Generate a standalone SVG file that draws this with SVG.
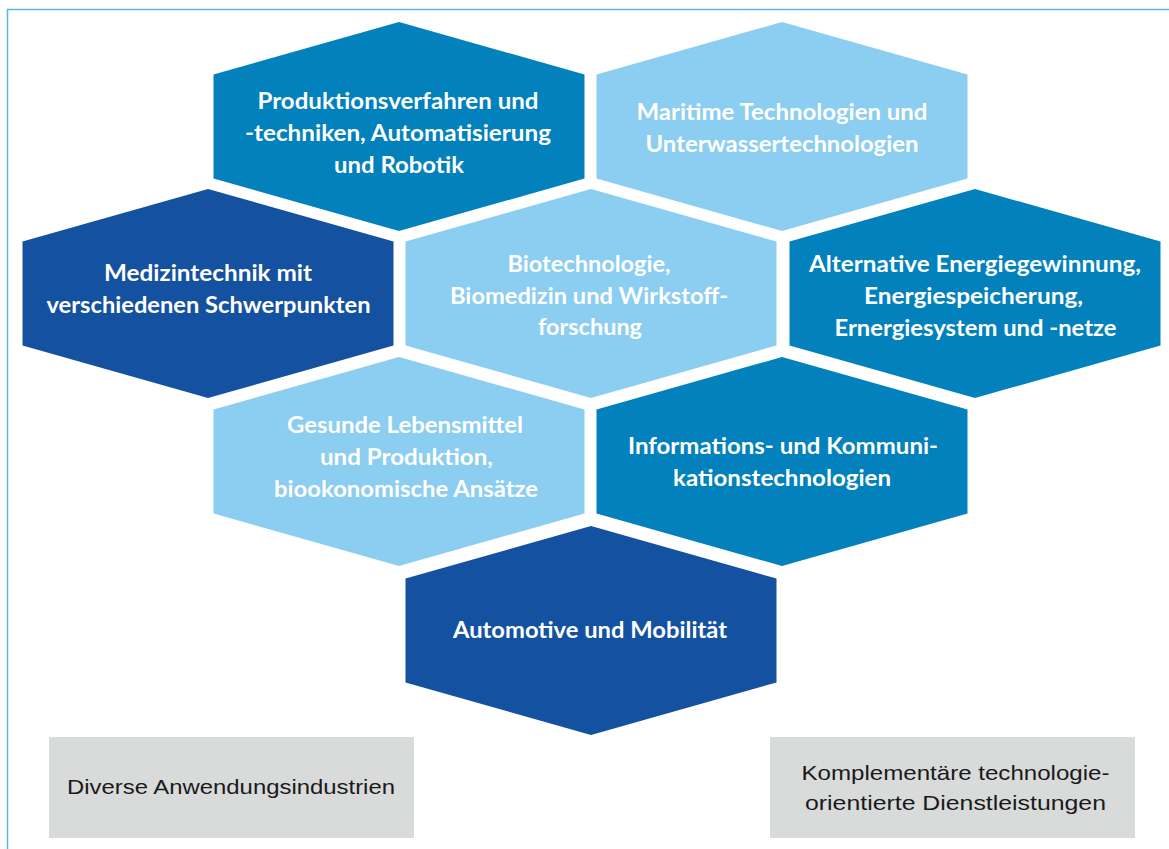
<svg xmlns="http://www.w3.org/2000/svg" width="1169" height="849" viewBox="0 0 1169 849">
<style>
.dark{fill:#1451a0}
.mid{fill:#0281bd}
.light{fill:#8ccef2}
.ht{font-family:Lato,"Noto Sans","DejaVu Sans",sans-serif;font-weight:700;font-size:22px;fill:#ffffff;text-anchor:middle}
.bx{fill:#d9dada}
.bt{font-family:"Liberation Sans",Arial,sans-serif;font-size:21px;fill:#1a1a1a;text-anchor:middle}
.frame{fill:none;stroke:#5ab5e6;stroke-width:1.5}
</style>
<rect width="1169" height="849" fill="#ffffff"/>
<path class="frame" d="M7.5,849 V9.5 H1169"/>
<g id="connectors"/>
<g id="node-produktion">
<polygon class="mid" points="399,22 584.5,74.5 584.5,178.5 399,231 213.5,178.5 213.5,74.5"/>
<text class="ht" x="398" y="109" textLength="281" lengthAdjust="spacingAndGlyphs">Produktionsverfahren und</text>
<text class="ht" x="398" y="141" textLength="306" lengthAdjust="spacingAndGlyphs">-techniken, Automatisierung</text>
<text class="ht" x="399" y="173" textLength="130" lengthAdjust="spacingAndGlyphs">und Robotik</text>
</g>
<g id="node-maritime">
<polygon class="light" points="782,22 967.5,74.5 967.5,178.5 782,231 596.5,178.5 596.5,74.5"/>
<text class="ht" x="782" y="120" textLength="291" lengthAdjust="spacingAndGlyphs">Maritime Technologien und</text>
<text class="ht" x="782" y="152" textLength="273" lengthAdjust="spacingAndGlyphs">Unterwassertechnologien</text>
</g>
<g id="node-medizin">
<polygon class="dark" points="208,189 393.5,241.5 393.5,345.5 208,398 22.5,345.5 22.5,241.5"/>
<text class="ht" x="208" y="281" textLength="208" lengthAdjust="spacingAndGlyphs">Medizintechnik mit</text>
<text class="ht" x="208.5" y="313" textLength="324" lengthAdjust="spacingAndGlyphs">verschiedenen Schwerpunkten</text>
</g>
<g id="node-biotech">
<polygon class="light" points="591,189 776.5,241.5 776.5,345.5 591,398 405.5,345.5 405.5,241.5"/>
<text class="ht" x="589" y="272" textLength="163" lengthAdjust="spacingAndGlyphs">Biotechnologie,</text>
<text class="ht" x="589" y="304" textLength="278" lengthAdjust="spacingAndGlyphs">Biomedizin und Wirkstoff-</text>
<text class="ht" x="590" y="335" textLength="104" lengthAdjust="spacingAndGlyphs">forschung</text>
</g>
<g id="node-energie">
<polygon class="mid" points="975,189 1160.5,241.5 1160.5,345.5 975,398 789.5,345.5 789.5,241.5"/>
<text class="ht" x="975" y="272" textLength="332" lengthAdjust="spacingAndGlyphs">Alternative Energiegewinnung,</text>
<text class="ht" x="973.5" y="304" textLength="219" lengthAdjust="spacingAndGlyphs">Energiespeicherung,</text>
<text class="ht" x="975.5" y="336" textLength="282" lengthAdjust="spacingAndGlyphs">Ernergiesystem und -netze</text>
</g>
<g id="node-lebensmittel">
<polygon class="light" points="399,357 584.5,409.5 584.5,513.5 399,566 213.5,513.5 213.5,409.5"/>
<text class="ht" x="405" y="433" textLength="236" lengthAdjust="spacingAndGlyphs">Gesunde Lebensmittel</text>
<text class="ht" x="406.5" y="465" textLength="173" lengthAdjust="spacingAndGlyphs">und Produktion,</text>
<text class="ht" x="406" y="497" textLength="264" lengthAdjust="spacingAndGlyphs">biookonomische Ansätze</text>
</g>
<g id="node-ikt">
<polygon class="mid" points="782,357 967.5,409.5 967.5,513.5 782,566 596.5,513.5 596.5,409.5"/>
<text class="ht" x="783" y="454" textLength="310" lengthAdjust="spacingAndGlyphs">Informations- und Kommuni-</text>
<text class="ht" x="782" y="486" textLength="218" lengthAdjust="spacingAndGlyphs">kationstechnologien</text>
</g>
<g id="node-automotive">
<polygon class="dark" points="591,526 776.5,578.5 776.5,682.5 591,735 405.5,682.5 405.5,578.5"/>
<text class="ht" x="590" y="638" textLength="274" lengthAdjust="spacingAndGlyphs">Automotive und Mobilität</text>
</g>
<g id="node-anwendung">
<rect class="bx" x="49" y="737" width="365" height="101"/>
<text class="bt" x="231" y="794" textLength="328" lengthAdjust="spacingAndGlyphs">Diverse Anwendungsindustrien</text>
</g>
<g id="node-dienstleistung">
<rect class="bx" x="770" y="737" width="365" height="101"/>
<text class="bt" x="955.5" y="780" textLength="308" lengthAdjust="spacingAndGlyphs">Komplementäre technologie-</text>
<text class="bt" x="955.5" y="810" textLength="301" lengthAdjust="spacingAndGlyphs">orientierte Dienstleistungen</text>
</g>
</svg>
